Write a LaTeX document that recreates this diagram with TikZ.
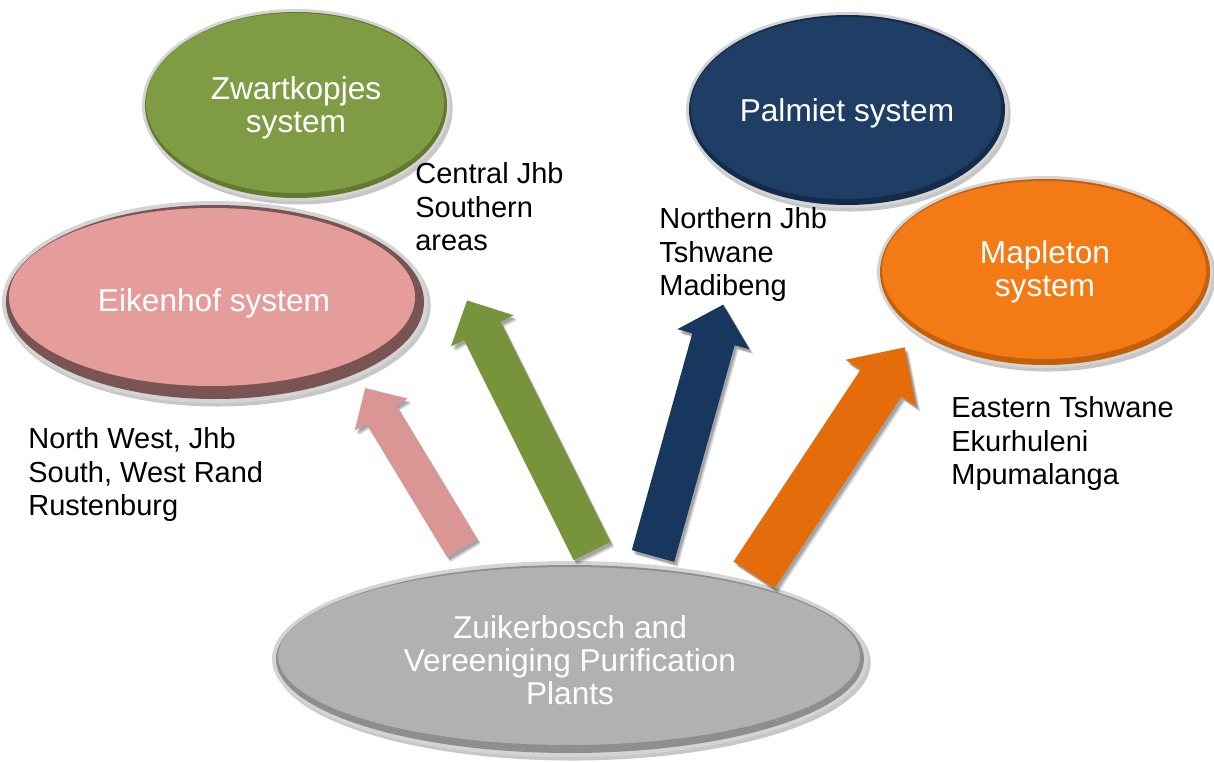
\documentclass[tikz,border=0pt]{standalone}
\usepackage{fontspec}
\setmainfont{Liberation Sans}
\usetikzlibrary{shapes.geometric,shadows}

% one drawing unit = one pixel of a 1214 x 762 canvas
\newcommand\pxs{0.02cm}

\definecolor{silver}{HTML}{D4D4D4}
\definecolor{zwfill}{HTML}{7F9C45}
\definecolor{zwrim}{HTML}{62792F}
\definecolor{zwarrow}{HTML}{77933C}
\definecolor{eifill}{HTML}{E59D9C}
\definecolor{eirim}{HTML}{7A5353}
\definecolor{eiarrow}{HTML}{D99694}
\definecolor{pafill}{HTML}{1F3E66}
\definecolor{parim}{HTML}{142B49}
\definecolor{paarrow}{HTML}{17375E}
\definecolor{mafill}{HTML}{F37A14}
\definecolor{marim}{HTML}{C2600C}
\definecolor{maarrow}{HTML}{E46C0A}
\definecolor{zufill}{HTML}{B1B1B1}
\definecolor{zurim}{HTML}{8E8E8E}

\tikzset{
  ellbase/.style={ellipse, inner sep=0pt, draw=none},
  systext/.style={inner sep=0pt, text=white, align=center,
    font=\fontsize{18}{18.7}\selectfont},
  arealabel/.style={anchor=north west, inner sep=0pt, align=left,
    text=black, font=\fontsize{16.5}{19.2}\selectfont},
  softshadow/.style={drop shadow={shadow xshift=1.5pt, shadow yshift=-2pt,
    opacity=0.22, fill=black}},
}

% block arrow: #1,#2 tail centre, #3 direction, #4 length, #5 shaft width,
% #6 head width, #7 head length, #8 colour
\newcommand\blockarrow[8]{%
  \foreach \dx/\dy/\op in {4/-5/0.10, 3/-4/0.14, 2/-3/0.16}{%
    \begin{scope}[shift={(#1+\dx,#2+\dy)}, rotate=#3]
      \fill[black, opacity=\op]
        (0,-#5/2) -- ({#4-#7},-#5/2) -- ({#4-#7},-#6/2) -- (#4,0)
        -- ({#4-#7},#6/2) -- ({#4-#7},#5/2) -- (0,#5/2) -- cycle;
    \end{scope}}
  \begin{scope}[shift={(#1,#2)}, rotate=#3]
    \fill[#8]
      (0,-#5/2) -- ({#4-#7},-#5/2) -- ({#4-#7},-#6/2) -- (#4,0)
      -- ({#4-#7},#6/2) -- ({#4-#7},#5/2) -- (0,#5/2) -- cycle;
  \end{scope}}

\begin{document}
\begin{tikzpicture}[x=\pxs, y=\pxs]
\useasboundingbox (0,0) rectangle (1214,762);
\fill[white] (0,0) rectangle (1214,762);

% source plants
\node[ellbase, fill=silver, softshadow, minimum width=596*\pxs, minimum height=196*\pxs] (zuiker-rim) at (570,103) {};
\node[ellbase, fill=zurim, minimum width=588*\pxs, minimum height=188*\pxs] (zuiker-bevel) at (570,103) {};
\node[ellbase, fill=zufill, minimum width=582*\pxs, minimum height=178*\pxs] (zuiker-face) at (569,106) {};
\node[systext] (zuiker) at (570,102)
  {Zuikerbosch and\\Vereeniging Purification\\Plants};

% Zwartkopjes system
\node[ellbase, fill=silver, softshadow, minimum width=308*\pxs, minimum height=192*\pxs] (zwart-rim) at (296,657) {};
\node[ellbase, fill=zwrim, minimum width=302*\pxs, minimum height=186*\pxs] (zwart-bevel) at (296,657) {};
\node[ellbase, fill=zwfill, minimum width=298*\pxs, minimum height=180*\pxs] (zwart-face) at (295,659) {};
\node[systext] (zwart) at (296,654) {Zwartkopjes\\system};

% Eikenhof system
\node[ellbase, fill=silver, softshadow, minimum width=426*\pxs, minimum height=202*\pxs] (eiken-rim) at (215,460) {};
\node[ellbase, fill=eirim, minimum width=418*\pxs, minimum height=194*\pxs] (eiken-bevel) at (215,460) {};
\node[ellbase, fill=eifill, minimum width=406*\pxs, minimum height=178*\pxs] (eiken-face) at (212,465) {};
\node[systext] (eiken) at (214,459) {Eikenhof system};

% Palmiet system
\node[ellbase, fill=silver, softshadow, minimum width=322*\pxs, minimum height=196*\pxs] (palm-rim) at (847,652) {};
\node[ellbase, fill=parim, minimum width=316*\pxs, minimum height=190*\pxs] (palm-bevel) at (847,652) {};
\node[ellbase, fill=pafill, minimum width=310*\pxs, minimum height=182*\pxs] (palm-face) at (846,654) {};
\node[systext] (palm) at (847,649) {Palmiet system};

% Mapleton system
\node[ellbase, fill=silver, softshadow, minimum width=336*\pxs, minimum height=192*\pxs] (maple-rim) at (1045,490) {};
\node[ellbase, fill=marim, minimum width=330*\pxs, minimum height=186*\pxs] (maple-bevel) at (1045,490) {};
\node[ellbase, fill=mafill, minimum width=324*\pxs, minimum height=178*\pxs] (maple-face) at (1044,492) {};
\node[systext] (maple) at (1045,490) {Mapleton\\system};

% supply arrows out of the plants
\blockarrow{462}{214}{121.2}{187}{35}{62}{31}{eiarrow}
\blockarrow{592}{211}{116.5}{280}{41}{70}{34}{zwarrow}
\blockarrow{653}{206}{74.4}{261}{44}{75}{36}{paarrow}
\blockarrow{754}{187}{56.5}{273}{49}{85}{43}{maarrow}

% areas served
\node[arealabel] (central) at (415,600) {Central Jhb\\Southern\\areas};
\node[arealabel] (northern) at (659,555) {Northern Jhb\\Tshwane\\Madibeng};
\node[arealabel] (northwest) at (28,335) {North West, Jhb\\South, West Rand\\Rustenburg};
\node[arealabel] (eastern) at (951,366) {Eastern Tshwane\\Ekurhuleni\\Mpumalanga};
\end{tikzpicture}
\end{document}
